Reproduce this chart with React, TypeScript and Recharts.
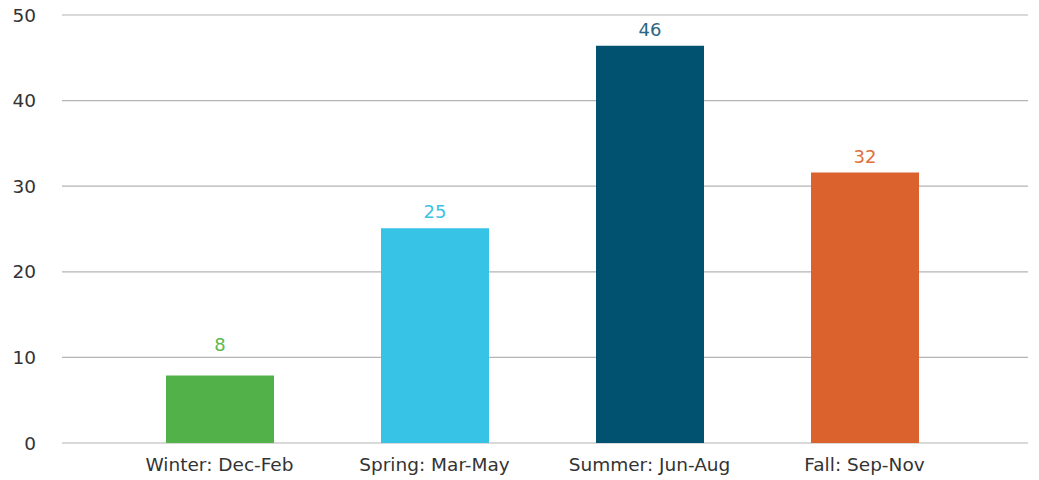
import { BarChart, Bar, XAxis, YAxis, CartesianGrid, Cell, LabelList } from "recharts";

const seasons = ["Winter: Dec-Feb", "Spring: Mar-May", "Summer: Jun-Aug", "Fall: Sep-Nov"];
const counts = [7.9, 25.1, 46.4, 31.6];
const yTicks = [0, 10, 20, 30, 40, 50];

const barColors = ["#52b148", "#36c3e6", "#005270", "#db622c"];
const labelColors = ["#5cb84f", "#3cc3e4", "#2a6585", "#e0703c"];
// winter label sits above the 10 gridline in the original
const labelGaps = [24, 10, 10, 10];

const data = seasons.map((season, i) => ({ season, count: counts[i] }));

const font = "'DejaVu Sans', sans-serif";

const renderLabel = (props: any) => {
  const { x, y, width, value, index } = props;
  return (
    <text
      x={x + width / 2}
      y={y - labelGaps[index]}
      textAnchor="middle"
      fill={labelColors[index]}
      fontSize={18}
      fontFamily={font}
    >
      {Math.round(value)}
    </text>
  );
};

const App = () => {
  return (
    <div style={{ position: "absolute", left: 0, top: 0, background: "#fff" }}>
      <BarChart
        width={1039}
        height={480}
        data={data}
        margin={{ top: 15, right: 11, bottom: 0, left: 0 }}
      >
        <CartesianGrid vertical={false} stroke="#b4b4b4" strokeWidth={1.2} />
        <XAxis
          dataKey="season"
          height={37}
          axisLine={false}
          tickLine={false}
          tickSize={0}
          tickMargin={15}
          padding={{ left: 50, right: 56 }}
          tick={{ fill: "#333", fontSize: 18.5, fontFamily: font }}
        />
        <YAxis
          width={62}
          domain={[0, 50]}
          ticks={yTicks}
          axisLine={false}
          tickLine={false}
          tickSize={0}
          tickMargin={26}
          tick={{ fill: "#333", fontSize: 18.5, fontFamily: font }}
        />
        <Bar dataKey="count" barSize={108} isAnimationActive={false}>
          {data.map((d, i) => (
            <Cell key={d.season} fill={barColors[i]} />
          ))}
          <LabelList dataKey="count" content={renderLabel} />
        </Bar>
      </BarChart>
    </div>
  );
};

export default App;
